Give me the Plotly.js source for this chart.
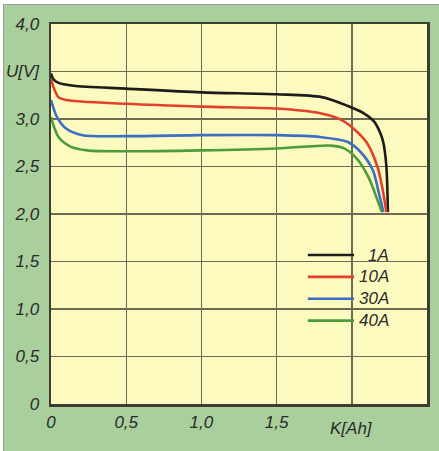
<!DOCTYPE html>
<html>
<head>
<meta charset="utf-8">
<script src="https://cdn.plot.ly/plotly-3.0.1.min.js"></script>
<style>
  html, body { margin: 0; padding: 0; background: #ffffff; width: 439px; height: 451px; overflow: hidden; }
  #frame { position: absolute; left: 3px; top: 4px; width: 436px; height: 447px; border-left: 1px solid #9a9a9a; border-top: 1px solid #9a9a9a; background: #a9cf9c; }
  #chart { width: 435px; height: 446px; }
</style>
</head>
<body>
<div id="frame"><div id="chart"></div></div>
<script>
// Series names and colours
const seriesNames = ["1A", "10A", "30A", "40A"];
const seriesColors = ["#1c1c1c", "#e2402c", "#3b6fc6", "#4c9c3c"];

// Capacity K [Ah] and voltage U [V]
const x1A  = [0, 0.015, 0.05, 0.15, 0.5, 1.0, 1.5, 1.8, 1.97, 2.08, 2.15, 2.19, 2.21, 2.23, 2.24];
const y1A  = [3.48, 3.42, 3.38, 3.35, 3.32, 3.28, 3.26, 3.23, 3.14, 3.06, 2.97, 2.85, 2.75, 2.5, 2.02];

const x10A = [0, 0.02, 0.05, 0.1, 0.5, 1.0, 1.5, 1.79, 1.93, 2.01, 2.1, 2.17, 2.2, 2.23];
const y10A = [3.42, 3.32, 3.23, 3.2, 3.16, 3.13, 3.11, 3.06, 2.99, 2.9, 2.75, 2.5, 2.3, 2.02];

const x30A = [0, 0.04, 0.1, 0.21, 0.5, 1.0, 1.5, 1.79, 1.97, 2.06, 2.14, 2.18, 2.21];
const y30A = [3.2, 3.02, 2.9, 2.83, 2.82, 2.83, 2.83, 2.81, 2.76, 2.65, 2.46, 2.22, 2.02];

const x40A = [0, 0.05, 0.13, 0.24, 0.5, 1.0, 1.5, 1.86, 1.95, 2.04, 2.11, 2.17, 2.2];
const y40A = [3.02, 2.81, 2.71, 2.67, 2.66, 2.67, 2.69, 2.72, 2.69, 2.57, 2.39, 2.15, 2.02];

// Tick labels
const xTickVals = [0, 0.5, 1.0, 1.5, 2.0, 2.5];
const xTickText = ["0", "0,5", "1,0", "1,5", "", "2,5"];
const yTickVals = [0, 0.5, 1.0, 1.5, 2.0, 2.5, 3.0, 3.5, 4.0];
const yTickText = ["0", "0,5", "1,0", "1,5", "2,0", "2,5", "3,0", "U[V]", "4,0"];

const xs = [x1A, x10A, x30A, x40A];
const ys = [y1A, y10A, y30A, y40A];

const traces = seriesNames.map((n, i) => ({
  x: xs[i], y: ys[i], name: n, type: "scatter", mode: "lines",
  line: { color: seriesColors[i], width: 2.6, shape: "spline", smoothing: 0.8 },
  hoverinfo: "skip", showlegend: false
}));

const font = { family: "Liberation Sans, Arial, sans-serif", size: 17, color: "#2a2a2a", style: "italic" };

// legend drawn as shapes + annotations
const shapes = [];
const annotations = [];
seriesNames.forEach((n, i) => {
  const yy = 0.392 - i * 0.0575;
  shapes.push({ type: "line", xref: "paper", yref: "paper", x0: 0.683, x1: 0.806, y0: yy, y1: yy,
    line: { color: seriesColors[i], width: 2.6 } });
  annotations.push({ xref: "paper", yref: "paper", x: 0.904, y: yy, text: n, showarrow: false,
    xanchor: "right", yanchor: "middle", font: font });
});
annotations.push({ xref: "x", yref: "paper", x: 2.0, y: 0, yshift: -24, text: "K[Ah]", showarrow: false,
  xanchor: "center", yanchor: "middle", font: font });

const layout = {
  width: 435, height: 446,
  margin: { l: 47, r: 12, t: 19, b: 47 },
  paper_bgcolor: "rgba(0,0,0,0)",
  plot_bgcolor: "#fcfabe",
  font: font,
  xaxis: {
    range: [0, 2.5], tickvals: xTickVals, ticktext: xTickText, ticks: "",
    showgrid: true, gridcolor: "#6d6a55", gridwidth: 1.4, zeroline: false,
    showline: true, mirror: true, linecolor: "#3e3e30", linewidth: 2.5,
    tickfont: font, ticklabelstandoff: 1, fixedrange: true
  },
  yaxis: {
    range: [0, 4.0], tickvals: yTickVals, ticktext: yTickText, ticks: "",
    showgrid: true, gridcolor: "#6d6a55", gridwidth: 1.4, zeroline: false,
    showline: true, mirror: true, linecolor: "#3e3e30", linewidth: 2.5,
    tickfont: font, ticklabelstandoff: 6, fixedrange: true
  },
  shapes: shapes,
  annotations: annotations,
  showlegend: false
};

Plotly.newPlot("chart", traces, layout, { displayModeBar: false, staticPlot: true });
</script>
</body>
</html>
